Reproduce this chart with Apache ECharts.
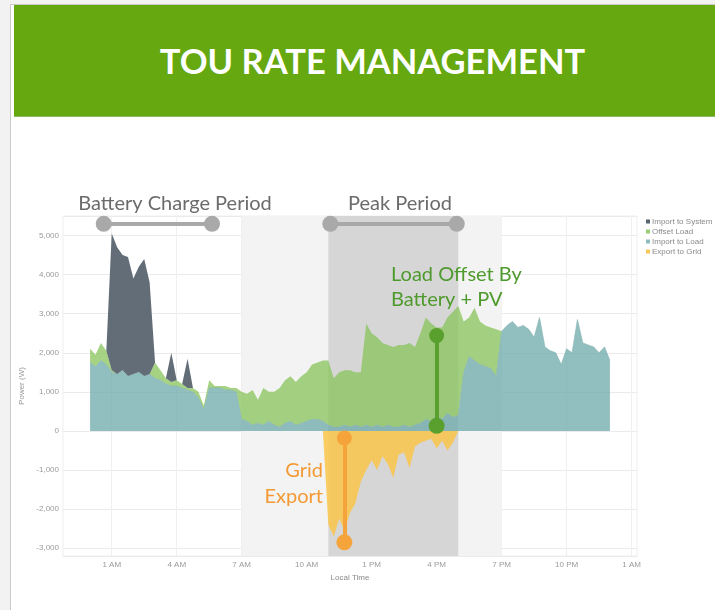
<!DOCTYPE html>
<html>
<head>
<meta charset="utf-8">
<title>TOU Rate Management</title>
<script src="https://cdn.jsdelivr.net/npm/echarts@6/dist/echarts.min.js"></script>
<style>
  html, body { margin: 0; padding: 0; background: #f2f2f2; width: 715px; height: 610px; overflow: hidden; }
  #page { position: absolute; left: 10px; top: 4px; width: 705px; height: 606px; background: #fff;
          border-left: 1px solid #c9c9c9; border-top: 1px solid #c9c9c9; }
  #header { position: absolute; left: 3px; top: 0; right: 0; height: 112px; background: #66a80f;
            border-bottom: 1px solid #8db566; color: #fff; font: 700 34.5px Lato, sans-serif;
            text-align: center; line-height: 112px; padding-left: 15px; box-sizing: border-box; }
  #chart { position: absolute; left: 0; top: 0; width: 715px; height: 610px; }
</style>
</head>
<body>
<div id="page"><div id="header">TOU RATE MANAGEMENT</div></div>
<div id="chart"></div>
<script>
// one reading every 15 minutes, midnight to midnight (97 points)
const STEP_HOURS = 0.25;

const importToLoad = [
  1750, 1650, 1800, 1700,  1500, 1450, 1550, 1400,  1450, 1500, 1400, 1450,
  1350, 1300, 1200, 1150,  1150, 1100, 1050, 1000,   850,  550, 1100, 1100,
  1100, 1050, 1050, 1000,   300,  250,  150,  200,   150,  250,  150,  100,
   200,  250,  150,  200,   250,  300,  300,  250,   150,  100,  100,  150,
   100,  150,  100,  150,   100,  150,  100,  150,   100,  100,  150,  100,
   150,  200,  300,  250,   400,  300,  450,  350,   400, 1500, 1900, 1800,
  1700, 1650, 1600, 1400,  2550, 2700, 2800, 2650,  2700, 2600, 2400, 2900,
  2150, 2050, 2000, 1700,  2100, 2000, 2850, 2250,  2200, 2150, 2000, 2150,
  1800
];

const offsetLoad = [
   350,  300,  450,  350,    50,    0,    0,    0,     0,    0,    0,    0,
   400,  250,  150,  100,   150,  100,   50,  100,   150,  100,  200,   50,
    50,  100,   50,  100,   700,  700,  900,  600,   950,  750,  850, 1000,
  1100, 1150, 1100, 1200,  1250, 1400, 1450, 1550,  1650, 1250, 1400, 1400,
  1450, 1350, 1400, 2600,  2400, 2250, 2150, 2050,  2050, 2100, 2050, 2150,
  2000, 2300, 2600, 2500,  2250, 2350, 2450, 2700,  2800, 1300, 1000, 1350,
  1100, 1050, 1050, 1200,     0,    0,    0,    0,     0,    0,    0,    0,
     0,    0,    0,    0,     0,    0,    0,    0,     0,    0,    0,    0,
     0
];

const importToSystem = [
     0,    0,    0,    0,  3500, 3250, 2950, 3050,  2450, 2700, 3000, 2350,
     0,    0,    0,  750,     0,    0,  750,    0,     0,    0,    0,    0,
     0,    0,    0,    0,     0,    0,    0,    0,     0,    0,    0,    0,
     0,    0,    0,    0,     0,    0,    0,    0,     0,    0,    0,    0,
     0,    0,    0,    0,     0,    0,    0,    0,     0,    0,    0,    0,
     0,    0,    0,    0,     0,    0,    0,    0,     0,    0,    0,    0,
     0,    0,    0,    0,     0,    0,    0,    0,     0,    0,    0,    0,
     0,    0,    0,    0,     0,    0,    0,    0,     0,    0,    0,    0,
     0
];

const exportToGrid = [
  null, null, null, null,  null, null, null, null,  null, null, null, null,
  null, null, null, null,  null, null, null, null,  null, null, null, null,
  null, null, null, null,  null, null, null, null,  null, null, null, null,
  null, null, null, null,  null, null, null,    0, -2400, -2700, -2250, -2550,
  -2100, -1850, -1300, -1000,  -750, -1000, -650, -850,  -1200, -600, -550, -950,
  -400, -300, -250, -200,  -450, -250, -500, -300,     0, null, null, null,
  null, null, null, null,  null, null, null, null,  null, null, null, null,
  null, null, null, null,  null, null, null, null,  null, null, null, null,
  null
];

const tickHours = [1, 4, 7, 10, 13, 16, 19, 22, 25];
const tickLabels = ['1 AM', '4 AM', '7 AM', '10 AM', '1 PM', '4 PM', '7 PM', '10 PM', '1 AM'];
const legendNames = ['Import to System', 'Offset Load', 'Import to Load', 'Export to Grid'];

// x range of the plot, in hours after midnight
const X_MIN = -1.25, X_MAX = 25.25;
const PAD_BEFORE = Math.round(-X_MIN / STEP_HOURS);
const PAD_AFTER = Math.round((X_MAX - 24) / STEP_HOURS);

// stacked series sit on a hidden category axis (stacking needs one); same span as the value axis
const slots = [];
for (let i = -PAD_BEFORE; i < importToLoad.length + PAD_AFTER; i++) slots.push(String(i * STEP_HOURS));
const padded = arr => Array(PAD_BEFORE).fill(null).concat(arr, Array(PAD_AFTER).fill(null));
const toPairs = arr => arr.map((v, i) => [i * STEP_HOURS, v]);

const chart = echarts.init(document.getElementById('chart'), null, { renderer: 'canvas' });

const annoFont = '20px Lato, sans-serif';

const option = {
  backgroundColor: 'transparent',
  animation: false,
  textStyle: { fontFamily: 'Liberation Sans, Arial, sans-serif' },
  grid: { left: 63, right: 78, top: 216, bottom: 54, show: true, borderColor: '#eeeeee', borderWidth: 1 },
  legend: {
    data: legendNames, orient: 'vertical', left: 641, top: 212,
    icon: 'rect', itemWidth: 4, itemHeight: 4, itemGap: 1,
    textStyle: { fontSize: 8, color: '#8a8a8a', lineHeight: 9, padding: [0, 0, 0, -3] }
  },
  xAxis: [
    {
      type: 'category', data: slots, boundaryGap: false, position: 'bottom',
      show: false, axisLabel: { show: false }, splitLine: { show: false }
    },
    {
      type: 'value', min: X_MIN, max: X_MAX, position: 'bottom',
      name: 'Local Time', nameLocation: 'middle', nameGap: 17,
      nameTextStyle: { fontSize: 8, color: '#8a8a8a' },
      axisLine: { show: false },
      axisTick: { show: false, customValues: tickHours },
      axisLabel: {
        customValues: tickHours, fontSize: 8, color: '#9a9a9a', margin: 5,
        formatter: v => tickLabels[tickHours.indexOf(v)]
      },
      splitLine: { show: true, lineStyle: { color: '#f0f0f0' } }
    }
  ],
  yAxis: {
    type: 'value', min: -3200, max: 5500, minInterval: 1000, maxInterval: 1000,
    name: 'Power (W)', nameLocation: 'middle', nameGap: 26,
    nameTextStyle: { fontSize: 8, color: '#9a9a9a' },
    axisLine: { show: false }, axisTick: { show: false },
    axisLabel: {
      fontSize: 8, color: '#9a9a9a', margin: 4, showMinLabel: false, showMaxLabel: false,
      formatter: v => v.toLocaleString('en-US')
    },
    splitLine: { lineStyle: { color: '#ebebeb' } }
  },
  graphic: [
    { type: 'text', style: { text: 'Battery Charge Period', x: 175, y: 204, textAlign: 'center', verticalAlign: 'middle', fill: '#6b6b6b', font: annoFont } },
    { type: 'text', style: { text: 'Peak Period', x: 400, y: 204, textAlign: 'center', verticalAlign: 'middle', fill: '#6b6b6b', font: annoFont } },
    { type: 'text', z: 100, style: { text: 'Load Offset By', x: 391, y: 275, textAlign: 'left', verticalAlign: 'middle', fill: '#4f9a2d', font: annoFont } },
    { type: 'text', z: 100, style: { text: 'Battery + PV', x: 391, y: 300, textAlign: 'left', verticalAlign: 'middle', fill: '#4f9a2d', font: annoFont } },
    { type: 'text', z: 100, style: { text: 'Grid', x: 323, y: 471, textAlign: 'right', verticalAlign: 'middle', fill: '#f39a35', font: annoFont } },
    { type: 'text', z: 100, style: { text: 'Export', x: 323, y: 497, textAlign: 'right', verticalAlign: 'middle', fill: '#f39a35', font: annoFont } }
  ],
  series: [
    {
      name: 'Import to Load', type: 'line', stack: 'load', showSymbol: false, xAxisIndex: 0,
      data: padded(importToLoad),
      itemStyle: { color: '#8dbcbc' },
      lineStyle: { width: 0.6, color: '#86b3b3' },
      areaStyle: { color: '#6ca8a8', opacity: 0.75 }
    },
    {
      name: 'Offset Load', type: 'line', stack: 'load', showSymbol: false, xAxisIndex: 0,
      data: padded(offsetLoad),
      itemStyle: { color: '#9ccc74' },
      lineStyle: { width: 0 },
      areaStyle: { color: '#88c45a', opacity: 0.75 }
    },
    {
      name: 'Import to System', type: 'line', stack: 'load', showSymbol: false, xAxisIndex: 0,
      data: padded(importToSystem),
      itemStyle: { color: '#5b656f' },
      lineStyle: { width: 0 },
      areaStyle: { color: '#56616b', opacity: 0.92 }
    },
    {
      name: 'Export to Grid', type: 'line', showSymbol: false, connectNulls: false, xAxisIndex: 1,
      data: toPairs(exportToGrid),
      itemStyle: { color: '#f6c85a' },
      lineStyle: { width: 0 },
      areaStyle: { color: '#fac64a', opacity: 0.85 },
      markArea: {
        silent: true,
        data: [
          [{ xAxis: 7, itemStyle: { color: '#f3f3f3' } }, { xAxis: 19 }],
          [{ xAxis: 11, itemStyle: { color: '#d6d6d6' } }, { xAxis: 17 }]
        ]
      },
      markLine: {
        silent: true, animation: false, symbol: ['circle', 'circle'], symbolSize: 16,
        label: { show: false },
        data: [
          [{ coord: [0.63, 5300], lineStyle: { color: '#a9a9a9', width: 4, type: 'solid' }, itemStyle: { color: '#a9a9a9' } }, { coord: [5.63, 5300] }],
          [{ coord: [11.09, 5300], lineStyle: { color: '#a9a9a9', width: 4, type: 'solid' }, itemStyle: { color: '#a9a9a9' } }, { coord: [16.93, 5300] }],
          [{ coord: [16.0, 2440], symbolSize: 15, lineStyle: { color: '#5aa02e', width: 4, type: 'solid' }, itemStyle: { color: '#5aa02e' } }, { coord: [16.0, 130] }],
          [{ coord: [11.74, -180], symbolSize: 15, lineStyle: { color: '#f5a43c', width: 4, type: 'solid' }, itemStyle: { color: '#f5a43c' } }, { coord: [11.74, -2850] }]
        ]
      }
    }
  ]
};

chart.setOption(option);
</script>
</body>
</html>
